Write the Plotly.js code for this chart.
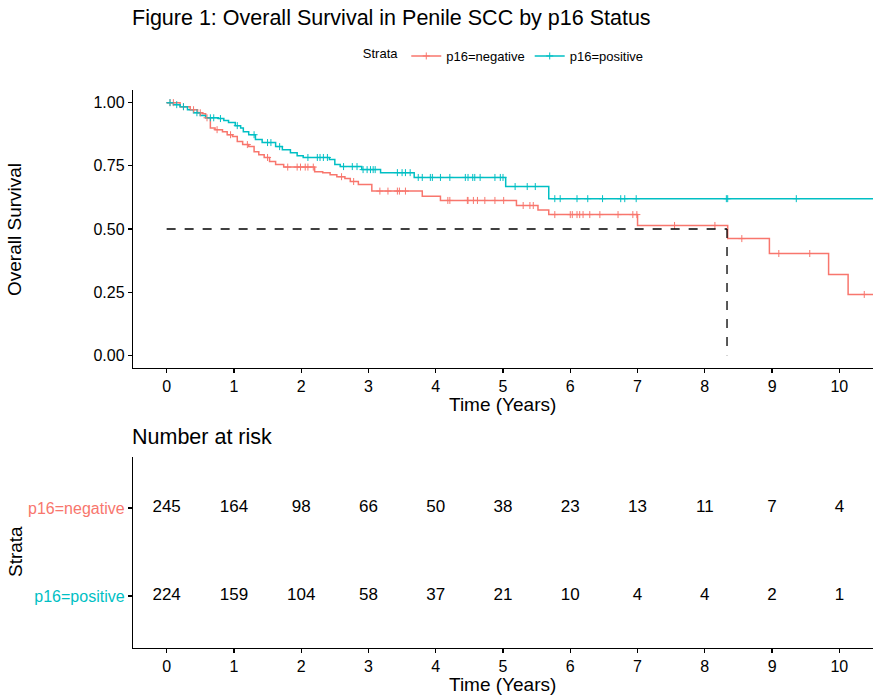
<!DOCTYPE html>
<html>
<head>
<meta charset="utf-8">
<script src="https://cdn.plot.ly/plotly-3.0.1.min.js"></script>
<style>html,body{margin:0;padding:0;background:#fff;}#chart{width:881px;height:700px;}</style>
</head>
<body>
<div id="chart"></div>
<script>
// ---- data ----
const negTime = [0, 0.2, 0.35, 0.46, 0.53, 0.58, 0.65, 0.72, 0.83, 0.9, 0.98, 1.05, 1.13, 1.22, 1.3, 1.37, 1.45, 1.53, 1.62, 1.74, 2.2, 2.32, 2.43, 2.53, 2.65, 2.73, 2.85, 3.05, 3.8, 4.07, 5.2, 5.52, 5.68, 7.0, 8.34, 8.96, 9.84, 10.13];
const negSurv = [1.0, 0.984, 0.972, 0.96, 0.956, 0.94, 0.90, 0.893, 0.885, 0.873, 0.866, 0.846, 0.834, 0.826, 0.806, 0.794, 0.783, 0.767, 0.755, 0.745, 0.727, 0.723, 0.715, 0.707, 0.70, 0.688, 0.676, 0.65, 0.63, 0.613, 0.593, 0.575, 0.557, 0.514, 0.462, 0.403, 0.32, 0.241];
const negCensor = [0.05, 0.1, 0.25, 0.4, 0.5, 0.6, 0.75, 0.95, 1.2, 1.5, 1.8, 1.94, 1.99, 2.06, 2.1, 2.18, 2.6, 2.78, 3.17, 3.29, 3.43, 3.46, 3.55, 4.18, 4.21, 4.47, 4.48, 4.56, 4.62, 4.73, 4.88, 5.01, 5.3, 5.4, 5.45, 5.77, 6.0, 6.03, 6.1, 6.14, 6.19, 6.29, 6.44, 6.71, 6.93, 6.99, 7.55, 8.15, 8.55, 9.1, 9.56, 10.37];

const posTime = [0, 0.1, 0.2, 0.31, 0.4, 0.5, 0.58, 0.77, 0.85, 0.92, 1.02, 1.1, 1.14, 1.22, 1.32, 1.42, 1.62, 1.72, 1.84, 1.94, 2.03, 2.42, 2.5, 2.58, 2.9, 3.18, 3.68, 5.04, 5.68];
const posSurv = [1.0, 0.992, 0.984, 0.972, 0.96, 0.949, 0.94, 0.937, 0.929, 0.921, 0.909, 0.90, 0.885, 0.873, 0.854, 0.842, 0.826, 0.814, 0.802, 0.79, 0.783, 0.775, 0.755, 0.747, 0.735, 0.723, 0.704, 0.668, 0.62];
const posCensor = [0.05, 0.15, 0.25, 0.45, 0.65, 0.7, 0.8, 1.05, 1.3, 1.5, 1.55, 1.68, 2.1, 2.24, 2.28, 2.33, 2.39, 2.63, 2.76, 2.83, 2.92, 2.98, 3.03, 3.07, 3.1, 3.43, 3.5, 3.55, 3.62, 3.74, 3.8, 3.92, 3.95, 4.07, 4.21, 4.44, 4.48, 4.55, 4.58, 4.66, 4.88, 4.96, 5.0, 5.18, 5.36, 5.48, 5.77, 5.85, 6.1, 6.26, 6.48, 6.75, 6.81, 6.98, 8.32, 8.34, 9.36];

const medianTime = 8.33;
const riskYears = [0, 1, 2, 3, 4, 5, 6, 7, 8, 9, 10];
const negRisk = [245, 164, 98, 66, 50, 38, 23, 13, 11, 7, 4];
const posRisk = [224, 159, 104, 58, 37, 21, 10, 4, 4, 2, 1];
const strataLabels = ["p16=negative", "p16=positive"];
const xTicks = [0, 1, 2, 3, 4, 5, 6, 7, 8, 9, 10];
const yTicks = [0, 0.25, 0.5, 0.75, 1.0];

// ---- helpers ----
const RED = "#F8766D", TEAL = "#00BFC4";
const FONT = "Liberation Sans, Arial, Helvetica, sans-serif";
const XEND = 10.6;
function stepXY(t, s) { return { x: t.concat([XEND]), y: s.concat([s[s.length - 1]]) }; }
function survAt(t, s, v) { let r = s[0]; for (let i = 0; i < t.length; i++) { if (t[i] <= v) r = s[i]; } return r; }

const negStep = stepXY(negTime, negSurv);
const posStep = stepXY(posTime, posSurv);

const markStyle = c => ({ symbol: "cross-thin", size: 5, color: c, line: { color: c, width: 1 } });

const traces = [
  { x: negStep.x, y: negStep.y, type: "scatter", mode: "lines", line: { color: RED, width: 1.5, shape: "hv" }, showlegend: false, xaxis: "x", yaxis: "y" },
  { x: posStep.x, y: posStep.y, type: "scatter", mode: "lines", line: { color: TEAL, width: 1.5, shape: "hv" }, showlegend: false, xaxis: "x", yaxis: "y" },
  { x: negCensor, y: negCensor.map(v => survAt(negTime, negSurv, v)), type: "scatter", mode: "markers", marker: markStyle(RED), showlegend: false, xaxis: "x", yaxis: "y" },
  { x: posCensor, y: posCensor.map(v => survAt(posTime, posSurv, v)), type: "scatter", mode: "markers", marker: markStyle(TEAL), showlegend: false, xaxis: "x", yaxis: "y" },
  { x: [0, medianTime], y: [0.5, 0.5], type: "scatter", mode: "lines", line: { color: "black", width: 1.3, dash: "dash" }, showlegend: false, xaxis: "x", yaxis: "y" },
  { x: [medianTime, medianTime], y: [0.5, 0], type: "scatter", mode: "lines", line: { color: "black", width: 1.3, dash: "dash" }, showlegend: false, xaxis: "x", yaxis: "y" },
  // legend entries
  { x: [null], y: [null], type: "scatter", mode: "lines+markers", name: strataLabels[0], line: { color: RED, width: 1.5 }, marker: markStyle(RED), xaxis: "x", yaxis: "y" },
  { x: [null], y: [null], type: "scatter", mode: "lines+markers", name: strataLabels[1], line: { color: TEAL, width: 1.5 }, marker: markStyle(TEAL), xaxis: "x", yaxis: "y" },
  // risk table
  { x: riskYears, y: riskYears.map(() => 2), text: negRisk.map(String), type: "scatter", mode: "text", textfont: { family: FONT, size: 17, color: "black" }, showlegend: false, xaxis: "x2", yaxis: "y2" },
  { x: riskYears, y: riskYears.map(() => 1), text: posRisk.map(String), type: "scatter", mode: "text", textfont: { family: FONT, size: 17, color: "black" }, showlegend: false, xaxis: "x2", yaxis: "y2" }
];

const axisCommon = {
  showgrid: false, zeroline: false, showline: true, linecolor: "black", linewidth: 1.2,
  ticks: "outside", ticklen: 4, tickcolor: "black", tickwidth: 1.2,
  tickfont: { family: FONT, size: 16, color: "black" }
};

const layout = {
  width: 881, height: 700,
  margin: { l: 0, r: 0, t: 0, b: 0 },
  paper_bgcolor: "white", plot_bgcolor: "white",
  font: { family: FONT, color: "black" },
  xaxis: Object.assign({}, axisCommon, { domain: [133 / 881, 873 / 881], range: [-0.5, 10.5], tickvals: xTicks, anchor: "y" }),
  yaxis: Object.assign({}, axisCommon, { domain: [1 - 368 / 700, 1 - 90 / 700], range: [-0.05, 1.05], tickvals: yTicks, ticktext: yTicks.map(v => v.toFixed(2)), anchor: "x" }),
  xaxis2: Object.assign({}, axisCommon, { domain: [133 / 881, 873 / 881], range: [-0.5, 10.5], tickvals: xTicks, anchor: "y2" }),
  yaxis2: Object.assign({}, axisCommon, { domain: [1 - 648 / 700, 1 - 457 / 700], range: [0.41, 2.58], tickvals: [2, 1],
    ticktext: ['<span style="color:' + RED + '">' + strataLabels[0] + '</span>', '<span style="color:' + TEAL + '">' + strataLabels[1] + '</span>'], anchor: "x2" }),
  legend: {
    orientation: "h", x: 0.573, xanchor: "center", y: 1 - 56 / 700, yanchor: "middle",
    title: { text: "Strata", font: { family: FONT, size: 13, color: "black" } },
    font: { family: FONT, size: 13, color: "black" }, itemwidth: 30, tracegroupgap: 0
  },
  annotations: [
    { text: "Figure 1: Overall Survival in Penile SCC by p16 Status", xref: "paper", yref: "paper", x: 130 / 881, y: 1 - 18 / 700, xanchor: "left", yanchor: "middle", showarrow: false, font: { family: FONT, size: 21.5, color: "black" } },
    { text: "Number at risk", xref: "paper", yref: "paper", x: 130 / 881, y: 1 - 437 / 700, xanchor: "left", yanchor: "middle", showarrow: false, font: { family: FONT, size: 21.5, color: "black" } },
    { text: "Time (Years)", xref: "paper", yref: "paper", x: 503 / 881, y: 1 - 404 / 700, xanchor: "center", yanchor: "middle", showarrow: false, font: { family: FONT, size: 19, color: "black" } },
    { text: "Time (Years)", xref: "paper", yref: "paper", x: 503 / 881, y: 1 - 684 / 700, xanchor: "center", yanchor: "middle", showarrow: false, font: { family: FONT, size: 19, color: "black" } },
    { text: "Overall Survival", xref: "paper", yref: "paper", x: 15 / 881, y: 1 - 230 / 700, xanchor: "center", yanchor: "middle", textangle: -90, showarrow: false, font: { family: FONT, size: 19, color: "black" } },
    { text: "Strata", xref: "paper", yref: "paper", x: 15 / 881, y: 1 - 552 / 700, xanchor: "center", yanchor: "middle", textangle: -90, showarrow: false, font: { family: FONT, size: 19, color: "black" } }
  ]
};

Plotly.newPlot("chart", traces, layout, { displayModeBar: false, staticPlot: true });
</script>
</body>
</html>
